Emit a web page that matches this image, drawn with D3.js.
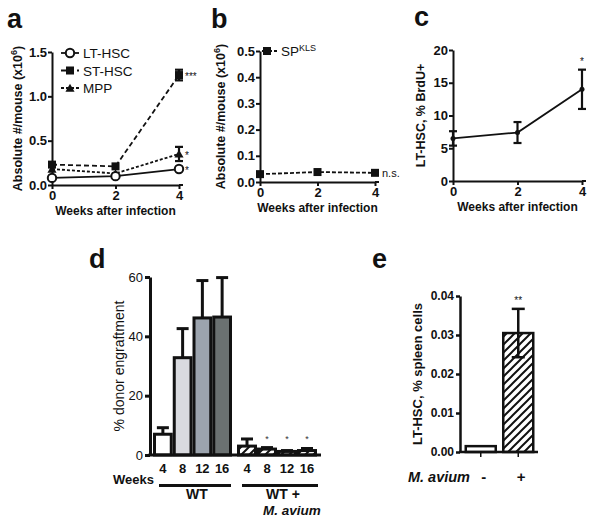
<!DOCTYPE html>
<html><head><meta charset="utf-8">
<script src="https://cdn.jsdelivr.net/npm/d3@7"></script>
<style>body{margin:0;background:#fff} text{font-family:"Liberation Sans",Arial,sans-serif}</style>
</head><body><svg id="chart" width="600" height="522"></svg>
<script>
// ---------- data ----------
const weeks = [0, 2, 4];
const ltHSC = [0.08, 0.10, 0.18];
const ltErr = [0.02, 0.01, 0.03];
const stHSC = [0.23, 0.21, 1.24];
const stErr = [0.02, 0.01, 0.06];
const mpp = [0.18, 0.13, 0.35];
const mppErr = [0.01, 0.01, 0.08];
const aTicks = [0, 0.5, 1.0, 1.5];
const spKLS = [0.03, 0.038, 0.035];
const spErr = [0.003, 0.002, 0.002];
const bTicks = [0, 0.1, 0.2, 0.3, 0.4, 0.5];
const brdu = [6.5, 7.4, 14.0];
const brduErr = [1.1, 1.6, 3.0];
const cTicks = [0, 5, 10, 15, 20];
const engWeeks = ["4", "8", "12", "16"];
const wtEngraft = [7.0, 32.8, 46.2, 46.5];
const wtEngErr = [2.2, 9.8, 12.6, 13.3];
const avEngraft = [3.0, 2.0, 1.2, 1.5];
const avEngErr = [2.4, 0.5, 0.3, 0.7];
const dTicks = [0, 20, 40, 60];
const eCats = ["-", "+"];
const eVals = [0.0015, 0.0305];
const eErr = [0.0001, 0.0062];
const eTicks = [0, 0.01, 0.02, 0.03, 0.04];

const svg = d3.select("#chart");
svg.append("rect").attr("width", 600).attr("height", 522).attr("fill", "#fff");
const defs = svg.append("defs");
const pat = defs.append("pattern").attr("id", "hatch").attr("patternUnits", "userSpaceOnUse")
  .attr("width", 8).attr("height", 8);
pat.append("rect").attr("width", 8).attr("height", 8).attr("fill", "#fff");
pat.append("path").attr("d", "M-2,2 L2,-2 M0,8 L8,0 M6,10 L10,6").attr("stroke", "#111").attr("stroke-width", 2);

function styleAxis(g, w, fs, weight) {
  g.selectAll("path.domain").attr("stroke", "#111").attr("stroke-width", w);
  g.selectAll(".tick line").attr("stroke", "#111").attr("stroke-width", w);
  g.selectAll(".tick text").attr("fill", "#111").attr("font-size", fs).attr("font-weight", weight)
    .attr("font-family", '"Liberation Sans",Arial,sans-serif');
}
function label(txt, x, y) {
  svg.append("text").attr("x", x).attr("y", y).attr("font-size", 27).attr("font-weight", "bold").attr("fill", "#111").text(txt);
}
function errBar(g, x, y1, y2, cap, w) {
  g.append("line").attr("x1", x).attr("x2", x).attr("y1", y1).attr("y2", y2).attr("stroke", "#111").attr("stroke-width", w);
  [y1, y2].forEach(yy => g.append("line").attr("x1", x - cap / 2).attr("x2", x + cap / 2).attr("y1", yy).attr("y2", yy)
    .attr("stroke", "#111").attr("stroke-width", w));
}
function marker(g, type, x, y) {
  if (type === "circle") g.append("circle").attr("cx", x).attr("cy", y).attr("r", 4.2).attr("fill", "#fff").attr("stroke", "#111").attr("stroke-width", 2);
  else if (type === "square") g.append("rect").attr("x", x - 4).attr("y", y - 4).attr("width", 8).attr("height", 8).attr("fill", "#111");
  else if (type === "triangle") g.append("path").attr("d", d3.symbol(d3.symbolTriangle, 36)()).attr("transform", `translate(${x},${y + 1})`).attr("fill", "#111");
  else g.append("circle").attr("cx", x).attr("cy", y).attr("r", 2.5).attr("fill", "#111");
}

function linePanel(cfg) {
  const g = svg.append("g");
  const x = d3.scaleLinear([0, 4], [cfg.x0, cfg.x1]);
  const y = d3.scaleLinear([cfg.ticks[0], cfg.ticks[cfg.ticks.length - 1]], [cfg.yb, cfg.yt]);
  const ya = g.append("g").attr("transform", `translate(${cfg.x0},0)`)
    .call(d3.axisLeft(y).tickValues(cfg.ticks).tickSize(4).tickSizeOuter(0).tickPadding(1).tickFormat(cfg.fmt));
  styleAxis(ya, 2, 13, "bold");
  const xa = g.append("g").attr("transform", `translate(0,${cfg.yb})`)
    .call(d3.axisBottom(x).tickValues(weeks).tickSize(4).tickSizeOuter(0).tickPadding(2).tickFormat(d3.format("d")));
  styleAxis(xa, 2, 13, "bold");
  g.append("line").attr("x1", cfg.x1).attr("x2", cfg.x1 + 4).attr("y1", cfg.yb).attr("y2", cfg.yb).attr("stroke", "#111").attr("stroke-width", 2);
  g.append("text").attr("x", (cfg.x0 + cfg.x1) / 2).attr("y", cfg.yb + 30).attr("text-anchor", "middle")
    .attr("font-size", 12).attr("font-weight", "bold").attr("fill", "#111").text("Weeks after infection");
  const t = g.append("text").attr("transform", `translate(${cfg.tx},${(cfg.yb + cfg.yt) / 2}) rotate(-90)`)
    .attr("text-anchor", "middle").attr("font-size", 12.5).attr("font-weight", "bold").attr("fill", "#111");
  cfg.title(t);
  cfg.series.forEach(s => {
    const line = d3.line().x((d, i) => x(weeks[i])).y(d => y(d));
    g.append("path").attr("d", line(s.vals)).attr("fill", "none").attr("stroke", "#111").attr("stroke-width", 1.8)
      .attr("stroke-dasharray", s.dash || null);
    s.vals.forEach((v, i) => {
      if (s.err[i] > 0.02 * (cfg.ticks[cfg.ticks.length - 1])) errBar(g, x(weeks[i]), y(v + s.err[i]), y(v - s.err[i]), 8, 2.2);
      marker(g, s.type, x(weeks[i]), y(v));
    });
  });
  return {g, x, y};
}

// ---------- panel a ----------
const A = linePanel({
  x0: 52, x1: 179, yb: 185, yt: 52, ticks: aTicks, fmt: d3.format(".1f"), tx: 22,
  title: t => { t.append("tspan").text("Absolute #/mouse (x10"); t.append("tspan").attr("baseline-shift", "super").attr("font-size", 9).text("6"); t.append("tspan").text(")"); },
  series: [
    {vals: mpp, err: mppErr, type: "triangle", dash: "3,2"},
    {vals: stHSC, err: stErr, type: "square", dash: "5,3"},
    {vals: ltHSC, err: ltErr, type: "circle"}
  ]
});
[["LT-HSC", "circle", null], ["ST-HSC", "square", "5,3"], ["MPP", "triangle", "3,2"]].forEach((d, i) => {
  const yy = 53 + i * 17.5;
  A.g.append("line").attr("x1", 61).attr("x2", 79).attr("y1", yy).attr("y2", yy).attr("stroke", "#111").attr("stroke-width", 1.8).attr("stroke-dasharray", d[2]);
  marker(A.g, d[1], 70, yy);
  A.g.append("text").attr("x", 83).attr("y", yy + 5).attr("font-size", 13.5).attr("fill", "#111").text(d[0]);
});
[["***", stHSC[2]], ["*", mpp[2]], ["*", ltHSC[2]]].forEach(d => {
  A.g.append("text").attr("x", 185).attr("y", A.y(d[1]) + 5).attr("font-size", 10).attr("fill", "#111").text(d[0]);
});
label("a", 7, 28);

// ---------- panel b ----------
const B = linePanel({
  x0: 260, x1: 375, yb: 182, yt: 51, ticks: bTicks, fmt: d3.format(".1f"), tx: 225,
  title: t => { t.append("tspan").text("Absolute #/mouse (x10"); t.append("tspan").attr("baseline-shift", "super").attr("font-size", 9).text("6"); t.append("tspan").text(")"); },
  series: [{vals: spKLS, err: spErr, type: "square", dash: "4,2"}]
});
B.g.append("line").attr("x1", 262).attr("x2", 277).attr("y1", 51).attr("y2", 51).attr("stroke", "#111").attr("stroke-width", 1.8).attr("stroke-dasharray", "4,2");
marker(B.g, "square", 267, 51);
const sp = B.g.append("text").attr("x", 281).attr("y", 56).attr("font-size", 13.5).attr("fill", "#111");
sp.append("tspan").text("SP");
sp.append("tspan").attr("baseline-shift", "super").attr("font-size", 9).text("KLS");
B.g.append("text").attr("x", 382).attr("y", B.y(spKLS[2]) + 4).attr("font-size", 11).attr("fill", "#111").text("n.s.");
label("b", 211, 28);

// ---------- panel c ----------
const C = linePanel({
  x0: 453, x1: 582, yb: 181, yt: 50, ticks: cTicks, fmt: d3.format("d"), tx: 425,
  title: t => t.text("LT-HSC, % BrdU+"),
  series: [{vals: brdu, err: brduErr, type: "dot"}]
});
C.g.append("text").attr("x", C.x(4)).attr("y", C.y(brdu[2] + brduErr[2]) - 5).attr("text-anchor", "middle").attr("font-size", 10).attr("fill", "#111").text("*");
label("c", 414, 26);

// ---------- panel d ----------
const D = svg.append("g");
const yD = d3.scaleLinear([0, 60], [455, 277]);
const xWT = d3.scaleBand(engWeeks, [153, 232]);
const xAv = d3.scaleBand(engWeeks, [237, 317]);
const wtFill = ["#ffffff", "#d9dadf", "#9ca4ae", "#6b7171"];
engWeeks.forEach((k, i) => {
  const x0 = xWT(k), bw = xWT.bandwidth();
  D.append("line").attr("x1", x0 + bw / 2).attr("x2", x0 + bw / 2).attr("y1", yD(wtEngraft[i])).attr("y2", yD(wtEngraft[i] + wtEngErr[i])).attr("stroke", "#111").attr("stroke-width", 3);
  D.append("line").attr("x1", x0 + bw / 2 - 6).attr("x2", x0 + bw / 2 + 6).attr("y1", yD(wtEngraft[i] + wtEngErr[i])).attr("y2", yD(wtEngraft[i] + wtEngErr[i])).attr("stroke", "#111").attr("stroke-width", 3);
  D.append("rect").attr("x", x0 + 1.5).attr("y", yD(wtEngraft[i])).attr("width", bw - 3).attr("height", yD(0) - yD(wtEngraft[i]))
    .attr("fill", wtFill[i]).attr("stroke", "#111").attr("stroke-width", 3);
});
engWeeks.forEach((k, i) => {
  const x0 = xAv(k), bw = xAv.bandwidth();
  D.append("line").attr("x1", x0 + bw / 2).attr("x2", x0 + bw / 2).attr("y1", yD(avEngraft[i])).attr("y2", yD(avEngraft[i] + avEngErr[i])).attr("stroke", "#111").attr("stroke-width", 3);
  D.append("line").attr("x1", x0 + bw / 2 - 6).attr("x2", x0 + bw / 2 + 6).attr("y1", yD(avEngraft[i] + avEngErr[i])).attr("y2", yD(avEngraft[i] + avEngErr[i])).attr("stroke", "#111").attr("stroke-width", 3);
  D.append("rect").attr("x", x0 + 1.5).attr("y", yD(avEngraft[i])).attr("width", bw - 3).attr("height", yD(0) - yD(avEngraft[i]))
    .attr("fill", "url(#hatch)").attr("stroke", "#111").attr("stroke-width", 3);
  if (i > 0) D.append("text").attr("x", x0 + bw / 2).attr("y", 442).attr("text-anchor", "middle").attr("font-size", 9).attr("fill", "#333").text("*");
});
const yDa = D.append("g").attr("transform", "translate(150,0)")
  .call(d3.axisLeft(yD).tickValues(dTicks).tickSize(5).tickSizeOuter(0).tickPadding(2).tickFormat(d3.format("d")));
styleAxis(yDa, 3, 13, "normal");
D.append("line").attr("x1", 148.5).attr("x2", 321).attr("y1", 455).attr("y2", 455).attr("stroke", "#111").attr("stroke-width", 3);
engWeeks.forEach(k => {
  D.append("text").attr("x", xWT(k) + xWT.bandwidth() / 2).attr("y", 473).attr("text-anchor", "middle").attr("font-size", 13).attr("font-weight", "bold").attr("fill", "#111").text(k);
  D.append("text").attr("x", xAv(k) + xAv.bandwidth() / 2).attr("y", 473).attr("text-anchor", "middle").attr("font-size", 13).attr("font-weight", "bold").attr("fill", "#111").text(k);
});
D.append("text").attr("x", 154).attr("y", 484).attr("text-anchor", "end").attr("font-size", 13).attr("font-weight", "bold").attr("fill", "#111").text("Weeks");
D.append("line").attr("x1", 159).attr("x2", 231).attr("y1", 485.5).attr("y2", 485.5).attr("stroke", "#111").attr("stroke-width", 3);
D.append("line").attr("x1", 242).attr("x2", 318).attr("y1", 485.5).attr("y2", 485.5).attr("stroke", "#111").attr("stroke-width", 3);
D.append("text").attr("x", 197).attr("y", 499).attr("text-anchor", "middle").attr("font-size", 14).attr("font-weight", "bold").attr("fill", "#111").text("WT");
D.append("text").attr("x", 283).attr("y", 499).attr("text-anchor", "middle").attr("font-size", 14).attr("font-weight", "bold").attr("fill", "#111").text("WT +");
D.append("text").attr("x", 292).attr("y", 515).attr("text-anchor", "middle").attr("font-size", 13.5).attr("font-weight", "bold").attr("font-style", "italic").attr("fill", "#111").text("M. avium");
D.append("text").attr("transform", "translate(124,366) rotate(-90)").attr("text-anchor", "middle").attr("font-size", 14).attr("fill", "#111").text("% donor engraftment");
label("d", 89, 268);

// ---------- panel e ----------
const E = svg.append("g");
const yE = d3.scaleLinear([0, 0.04], [452, 296]);
const xE = d3.scaleBand(eCats, [462, 537]).paddingInner(0.2).paddingOuter(0.1);
eCats.forEach((k, i) => {
  const x0 = xE(k), bw = xE.bandwidth(), cx = x0 + bw / 2;
  E.append("rect").attr("x", x0).attr("y", yE(eVals[i])).attr("width", bw).attr("height", yE(0) - yE(eVals[i]))
    .attr("fill", i === 0 ? "#fff" : "url(#hatch)").attr("stroke", "#111").attr("stroke-width", 2.5);
  if (i === 1) errBar(E, cx, yE(eVals[i] + eErr[i]), yE(eVals[i] - eErr[i]), 13, 2.5);
  E.append("line").attr("x1", cx).attr("x2", cx).attr("y1", 452).attr("y2", 457).attr("stroke", "#111").attr("stroke-width", 1.5);
  E.append("text").attr("x", cx + 3).attr("y", 482).attr("text-anchor", "middle").attr("font-size", 15).attr("font-weight", "bold").attr("fill", "#111").text(k);
});
E.append("text").attr("x", xE("+") + xE.bandwidth() / 2).attr("y", yE(eVals[1] + eErr[1]) - 5).attr("text-anchor", "middle").attr("font-size", 10).attr("fill", "#111").text("**");
const yEa = E.append("g").attr("transform", "translate(460,0)")
  .call(d3.axisLeft(yE).tickValues(eTicks).tickSize(4).tickSizeOuter(0).tickPadding(2).tickFormat(d3.format(".2f")));
styleAxis(yEa, 2.5, 12, "bold");
E.append("line").attr("x1", 459).attr("x2", 538).attr("y1", 452).attr("y2", 452).attr("stroke", "#111").attr("stroke-width", 2.5);
E.append("text").attr("transform", "translate(422,374) rotate(-90)").attr("text-anchor", "middle").attr("font-size", 13).attr("font-weight", "bold").attr("fill", "#111").text("LT-HSC, % spleen cells");
E.append("text").attr("x", 470).attr("y", 482).attr("text-anchor", "end").attr("font-size", 14.5).attr("font-weight", "bold").attr("font-style", "italic").attr("fill", "#111").text("M. avium");
label("e", 372, 268);
</script></body></html>
